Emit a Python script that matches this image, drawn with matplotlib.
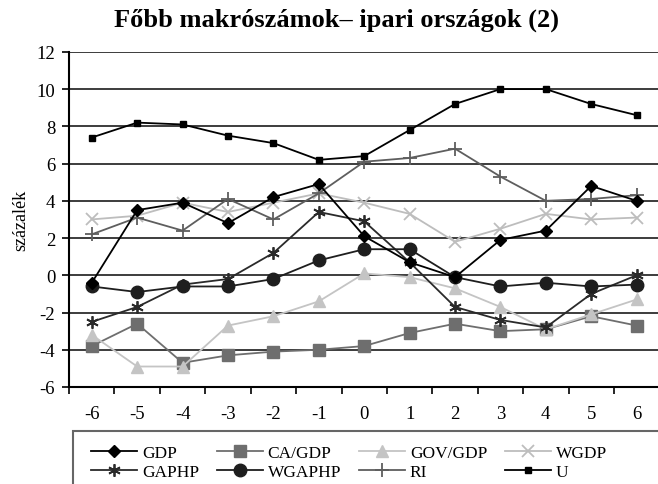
import matplotlib.pyplot as plt
from matplotlib.patches import Rectangle

plt.rcParams['font.family'] = ['Liberation Serif', 'DejaVu Serif']
plt.rcParams['axes.unicode_minus'] = False

# évek a fordulóponthoz képest
periods = ['-6', '-5', '-4', '-3', '-2', '-1', '0', '1', '2', '3', '4', '5', '6']

gdp    = [-0.4, 3.5, 3.9, 2.8, 4.2, 4.9, 2.1, 0.7, -0.1, 1.9, 2.4, 4.8, 4.0]
ca_gdp = [-3.8, -2.6, -4.7, -4.3, -4.1, -4.0, -3.8, -3.1, -2.6, -3.0, -2.9, -2.2, -2.7]
gov    = [-3.2, -4.9, -4.9, -2.7, -2.2, -1.4, 0.1, -0.1, -0.7, -1.7, -2.9, -2.1, -1.3]
wgdp   = [3.0, 3.2, 3.9, 3.4, 3.9, 4.4, 3.9, 3.3, 1.8, 2.5, 3.3, 3.0, 3.1]
gaphp  = [-2.5, -1.7, -0.5, -0.2, 1.2, 3.4, 2.9, 0.7, -1.7, -2.4, -2.8, -1.0, 0.0]
wgaphp = [-0.6, -0.9, -0.6, -0.6, -0.2, 0.8, 1.4, 1.4, -0.1, -0.6, -0.4, -0.6, -0.5]
ri     = [2.2, 3.1, 2.4, 4.1, 3.0, 4.4, 6.1, 6.3, 6.8, 5.3, 4.0, 4.1, 4.3]
u      = [7.4, 8.2, 8.1, 7.5, 7.1, 6.2, 6.4, 7.8, 9.2, 10.0, 10.0, 9.2, 8.6]

fig = plt.figure(figsize=(6.58, 4.85), dpi=100)
ax = fig.add_axes([0.105, 0.2, 0.897, 0.691])

x = list(range(len(periods)))
h_gdp, = ax.plot(x, gdp, color='black', lw=1.3, marker='D', ms=6.5, label='GDP', zorder=5)
h_ca, = ax.plot(x, ca_gdp, color='#6e6e6e', lw=1.3, marker='s', ms=8.5, label='CA/GDP')
h_gov, = ax.plot(x, gov, color='#c4c4c4', lw=1.3, marker='^', ms=9, label='GOV/GDP')
h_wgdp, = ax.plot(x, wgdp, color='#bdbdbd', lw=1.3, marker='x', ms=8, mew=1.3, label='WGDP')
h_gaphp, = ax.plot(x, gaphp, color='#2a2a2a', lw=1.3, marker=(6, 2, 0), ms=9, mew=1.3, label='GAPHP')
h_wgaphp, = ax.plot(x, wgaphp, color='#1e1e1e', lw=1.3, marker='o', ms=9, label='WGAPHP')
h_ri, = ax.plot(x, ri, color='#5e5e5e', lw=1.3, marker='+', ms=10, mew=1.3, label='RI')
h_u, = ax.plot(x, u, color='black', lw=1.3, marker='s', ms=5, label='U')

ax.set_xlim(-0.5, 12.5)
ax.set_ylim(-6, 12)
ax.set_yticks(range(-6, 13, 2))
ax.set_xticks(x)
ax.set_xticklabels(periods)
ax.set_xticks([i + 0.5 for i in range(-1, 13)], minor=True)
ax.tick_params(axis='x', which='major', length=0, pad=13, labelsize=13.5)
ax.tick_params(axis='x', which='minor', length=5, width=1.2, direction='out')
ax.tick_params(axis='y', length=5, width=1.2, pad=5, labelsize=13.5)

ax.grid(axis='y', color='#3c3c3c', lw=1.4)
ax.set_axisbelow(True)
for s in ['top', 'right']:
    ax.spines[s].set_visible(False)
for s in ['left', 'bottom']:
    ax.spines[s].set_linewidth(1.5)
ax.set_ylabel('százalék', fontsize=13, labelpad=5)

fig.text(0.511, 0.958, 'Főbb makrószámok– ipari országok (2)', ha='center', va='center',
         fontsize=19, fontweight='bold')

fig.patches.append(Rectangle((0.111, -0.05), 1.0, 0.159, transform=fig.transFigure,
                             fill=False, edgecolor='#666666', lw=1.5))
# soronként töltött jelmagyarázat
order = [h_gdp, h_gaphp, h_ca, h_wgaphp, h_gov, h_ri, h_wgdp, h_u]
fig.legend(handles=order, loc='upper left', bbox_to_anchor=(0.138, 0.081), ncol=4,
           frameon=False, fontsize=12.5, handlelength=2.65, handletextpad=0.3,
           columnspacing=1.0, labelspacing=0.2, borderpad=0, borderaxespad=0)

fig.savefig('out.png', dpi=100)
